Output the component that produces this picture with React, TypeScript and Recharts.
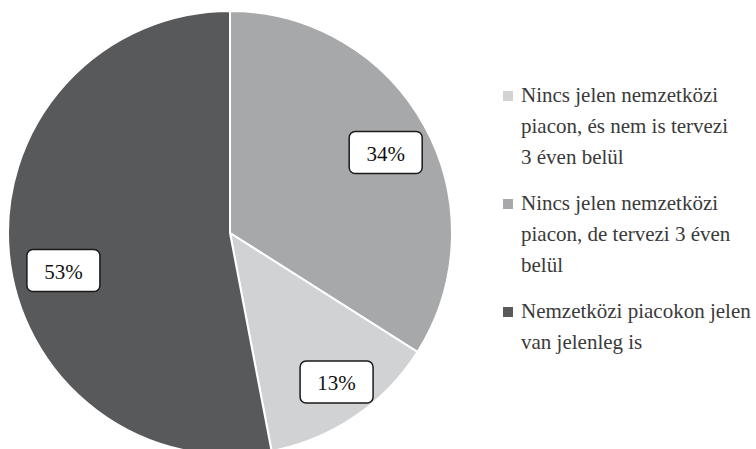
import { Cell, Legend, Pie, PieChart } from 'recharts'

// slices in drawing order, clockwise from 12 o'clock
const sliceNames = [
  'Nincs jelen nemzetközi\npiacon, de tervezi 3 éven\nbelül',
  'Nincs jelen nemzetközi\npiacon, és nem is tervezi\n3 éven belül',
  'Nemzetközi piacokon jelen\nvan jelenleg is',
]
const sliceValues = [34, 13, 53]
const sliceColors = ['#a7a8aa', '#d1d2d4', '#58595b']

// legend lists the slices in a different order
const legendOrder = [1, 0, 2]

// small per-label nudges (px) so the boxes sit where the original put them
const labelNudge = [
  [2, 4],
  [8, 4],
  [8, 21],
]

const data = sliceNames.map((name, i) => ({ name, value: sliceValues[i] }))

const FONT = 'Liberation Serif'
const RADIAN = Math.PI / 180

function BoxLabel(props: any) {
  const { cx, cy, midAngle, outerRadius, value, index } = props
  const r = outerRadius * 0.79
  const [nx, ny] = labelNudge[index] || [0, 0]
  const x = cx + r * Math.cos(-midAngle * RADIAN) + nx
  const y = cy + r * Math.sin(-midAngle * RADIAN) + ny
  const w = 73
  const h = 42
  return (
    <g>
      <rect
        x={x - w / 2}
        y={y - h / 2}
        width={w}
        height={h}
        rx={6}
        ry={6}
        fill="#ffffff"
        stroke="#1a1a1a"
        strokeWidth={1.5}
      />
      <text
        x={x}
        y={y + 1}
        textAnchor="middle"
        dominantBaseline="central"
        style={{ fontFamily: FONT, fontSize: 21 }}
        fill="#111"
      >
        {`${value}%`}
      </text>
    </g>
  )
}

function LegendList() {
  return (
    <div style={{ fontFamily: FONT, fontSize: 21, lineHeight: '31px', color: '#3a3a3a' }}>
      {legendOrder.map((idx) => (
        <div key={idx} style={{ display: 'flex', alignItems: 'flex-start', marginBottom: 15 }}>
          <span
            style={{
              display: 'inline-block',
              width: 10,
              height: 10,
              marginTop: 11,
              marginRight: 8,
              background: sliceColors[idx],
              flexShrink: 0,
            }}
          />
          <span style={{ whiteSpace: 'pre-line' }}>{sliceNames[idx]}</span>
        </div>
      ))}
    </div>
  )
}

export default function App() {
  return (
    <div
      style={{
        position: 'absolute',
        left: 0,
        top: 0,
        width: 756,
        height: 449,
        background: '#fff',
        fontFamily: FONT,
      }}
    >
      <PieChart width={756} height={449} margin={{ top: 0, right: 0, bottom: 0, left: 0 }}>
        <Pie
          data={data}
          dataKey="value"
          nameKey="name"
          cx={230}
          cy={233}
          outerRadius={222}
          startAngle={90}
          endAngle={-270}
          stroke="#ffffff"
          strokeWidth={2}
          label={BoxLabel}
          labelLine={false}
          isAnimationActive={false}
        >
          {data.map((d, i) => (
            <Cell key={d.name} fill={sliceColors[i]} />
          ))}
        </Pie>
        <Legend
          content={<LegendList />}
          wrapperStyle={{ position: 'absolute', left: 503, top: 80, width: 253, right: 'auto', bottom: 'auto' }}
        />
      </PieChart>
    </div>
  )
}
